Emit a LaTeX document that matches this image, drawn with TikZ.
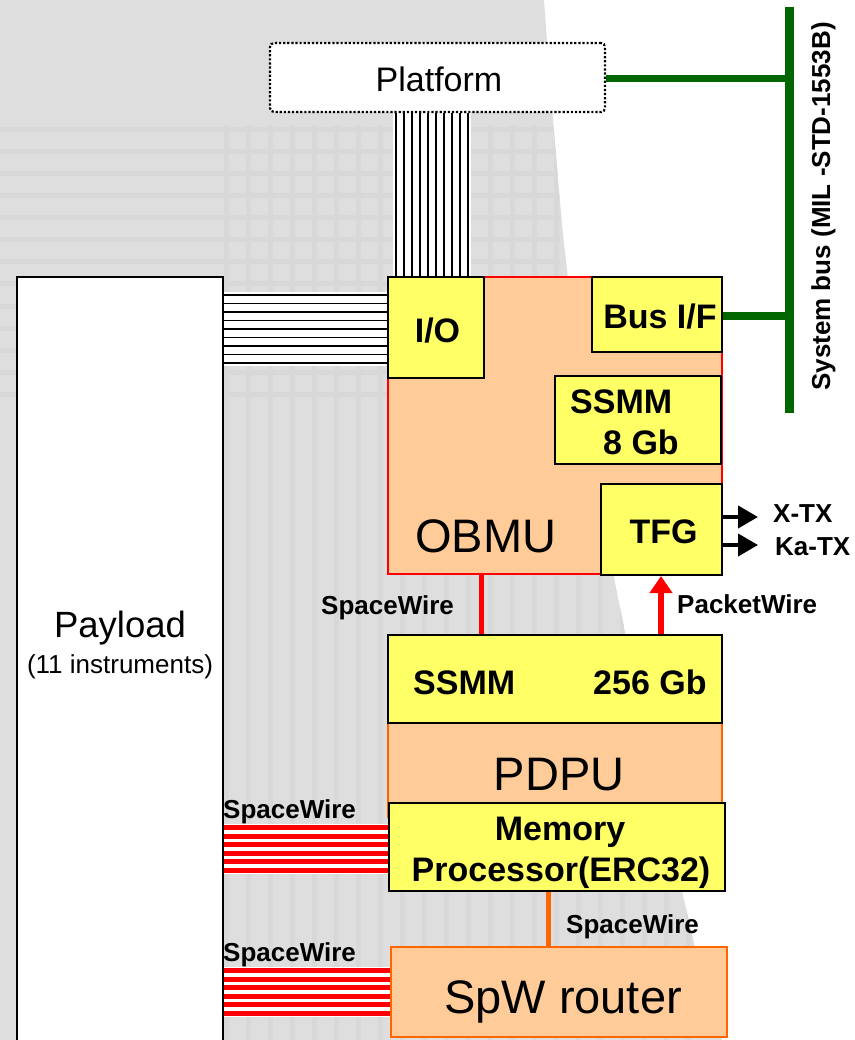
\documentclass[tikz,border=0pt]{standalone}
\usepackage{fontspec}
\setmainfont{Liberation Sans}
\usetikzlibrary{arrows.meta}
\definecolor{peach}{HTML}{FFCC99}
\definecolor{yel}{HTML}{FFFF66}
\definecolor{sred}{HTML}{FF0000}
\definecolor{sorange}{HTML}{FF6600}
\definecolor{sgreen}{HTML}{006600}
\definecolor{bggray}{HTML}{DEDEDE}
\definecolor{bgstripe}{HTML}{D8D8D8}
\begin{document}
\begin{tikzpicture}[x=1pt,y=-1pt,
  box/.style={draw, rectangle, inner sep=0pt, line width=2pt},
  ybox/.style={box, fill=yel, draw=black},
  obox/.style={box, fill=peach, draw=sorange, line width=2.5pt},
  big/.style={font=\fontsize{47}{56}\selectfont, inner sep=0pt, anchor=base},
  bl/.style={font=\fontsize{34}{41}\selectfont\bfseries, inner sep=0pt, anchor=base},
  blw/.style={bl, anchor=base west},
  sm/.style={font=\fontsize{26}{31}\selectfont\bfseries, inner sep=0pt, anchor=base west},
  wire/.style={line width=1.7pt, black},
  rwire/.style={line width=5pt, sred},
  gbus/.style={line width=7.5pt, sgreen},
  link/.style={line width=5pt},
  tx/.style={line width=4pt, black, -{Triangle[length=20pt,width=22pt]}},
  stripe/.style={line width=5pt, bgstripe}
]
\useasboundingbox (0,0) rectangle (854,1040);
\fill[white] (0,0) rectangle (854,1040);
% background
\fill[bggray] (0,0) -- plot[smooth] coordinates {(544,0) (567,270) (614,577) (694,943) (722,1040)} -- (0,1040) -- cycle;
\begin{scope}
  \clip (0,0) -- plot[smooth] coordinates {(544,0) (567,270) (614,577) (694,943) (722,1040)} -- (0,1040) -- cycle;
  \foreach \x in {226,248,270,292,314,336,358,380,402,424,446,468,490,512,534,556,578,600,622,644,666,688}
    \draw[stripe] (\x,125) -- (\x,1040);
  \foreach \y in {130,152,174,196,218,240,262,284,306,328,350,372,394}
    \draw[stripe] (0,\y) -- (560,\y);
\end{scope}

% platform wires band
\fill[white] (393,112) rectangle (471,277);
% payload wires band
\fill[white] (223,292) rectangle (388,366);
% red bundle bands
\fill[white] (223,824) rectangle (391,874);
\fill[white] (223,967) rectangle (391,1017);

% boxes
\node[draw, line width=2.2pt, dash pattern=on 2.2pt off 1.9pt, rounded corners=4pt, fill=white,
      minimum width=335pt, minimum height=69pt, inner sep=0pt] (platform) at (437.5,77.5) {};
\node[draw, line width=1.5pt, fill=white, minimum width=206pt, minimum height=775pt, inner sep=0pt] (payload) at (120,664.5) {};

\node[box, fill=peach, draw=sred, minimum width=334pt, minimum height=297pt] (obmu) at (555,425.5) {};
\node[ybox, minimum width=96pt, minimum height=101pt] (io) at (436,327.5) {};
\node[ybox, minimum width=130pt, minimum height=75pt] (busif) at (657,314.5) {};
\node[ybox, minimum width=166pt, minimum height=88pt] (ssmm8) at (638,420) {};
\node[ybox, minimum width=121pt, minimum height=91pt] (tfg) at (661.5,529.5) {};

\node[obox, minimum width=334pt, minimum height=182pt] (pdpu) at (555,726) {};
\node[ybox, minimum width=334pt, minimum height=88pt] (ssmm256) at (555,679) {};
\node[ybox, minimum width=336pt, minimum height=88pt] (mem) at (557,847) {};
\node[obox, minimum width=336pt, minimum height=90pt] (router) at (559,992) {};

% wires platform -> I/O
\foreach \x in {396,404,...,468}
  \draw[wire] (platform.south -| \x,0) -- (io.north -| \x,0);
% wires payload -> I/O
\foreach \y in {295,303.5,...,363.5}
  \draw[wire] (payload.east |- 0,\y) -- (io.west |- 0,\y);
% SpaceWire bundles
\foreach \y in {827.5,836,...,871}
  \draw[rwire] (payload.east |- 0,\y) -- (mem.west |- 0,\y);
\foreach \y in {970.5,979,...,1014}
  \draw[rwire] (payload.east |- 0,\y) -- (router.west |- 0,\y);

% system bus
\coordinate (bustop) at (789,7);
\coordinate (busbot) at (789,413);
\draw[gbus, line width=9pt] (bustop) -- (busbot);
\draw[gbus] (platform.east |- 0,78.5) -- (bustop |- 0,78.5);
\draw[gbus] (busif.east |- 0,316) -- (bustop |- 0,316);

% links
\draw[link, sred] (obmu.south -| 481,0) -- (ssmm256.north -| 481,0);
\draw[link, sred, line width=6pt, -{Triangle[length=17pt,width=22pt]}] (ssmm256.north -| 661,0) -- (tfg.south -| 661,0);
\draw[link, sorange] (mem.south -| 548,0) -- (router.north -| 548,0);

% TX arrows
\coordinate (xtx) at (758,517);
\coordinate (katx) at (758,545);
\draw[tx] (tfg.east |- xtx) -- (xtx);
\draw[tx] (tfg.east |- katx) -- (katx);

% texts
\node[font=\fontsize{34}{41}\selectfont, inner sep=0pt, anchor=base] (tplat) at (439,92) {Platform};
\node[font=\fontsize{36.5}{44}\selectfont, inner sep=0pt, anchor=base] (tpay) at (120,637) {Payload};
\node[font=\fontsize{26}{31}\selectfont, inner sep=0pt, anchor=base] (tinst) at (120,673) {(11 instruments)};
\node[bl] (tio) at (437.5,342) {I/O};
\node[bl] (tbus) at (660,328) {Bus I/F};
\node[blw] (tssmm8a) at (570,413) {SSMM};
\node[blw] (tssmm8b) at (603,454) {8 Gb};
\node[bl] (ttfg) at (663.5,543) {TFG};
\node[big, anchor=base west] (tobmu) at (415,552) {OBMU};
\node[blw] (tssmm256a) at (413,694) {SSMM};
\node[blw] (tssmm256b) at (593,694) {256 Gb};
\node[big] (tpdpu) at (559,790) {PDPU};
\node[bl] (tmem1) at (560,840) {Memory};
\node[bl] (tmem2) at (561,881) {Processor(ERC32)};
\node[big] (trouter) at (563,1013) {SpW router};

\node[sm] (lsw1) at (321,614) {SpaceWire};
\node[sm] (lpw) at (677,613) {PacketWire};
\node[sm] (lsw2) at (223,818) {SpaceWire};
\node[sm] (lsw3) at (566,933) {SpaceWire};
\node[sm] (lsw4) at (223,961) {SpaceWire};
\node[sm] (lxtx) at (773,522) {X-TX};
\node[sm] (lkatx) at (775,555) {Ka-TX};
\node[font=\fontsize{26}{31}\selectfont\bfseries, inner sep=0pt, rotate=90, anchor=base] (lbus) at (830,206.5) {System bus (MIL -STD-1553B)};
\end{tikzpicture}
\end{document}
